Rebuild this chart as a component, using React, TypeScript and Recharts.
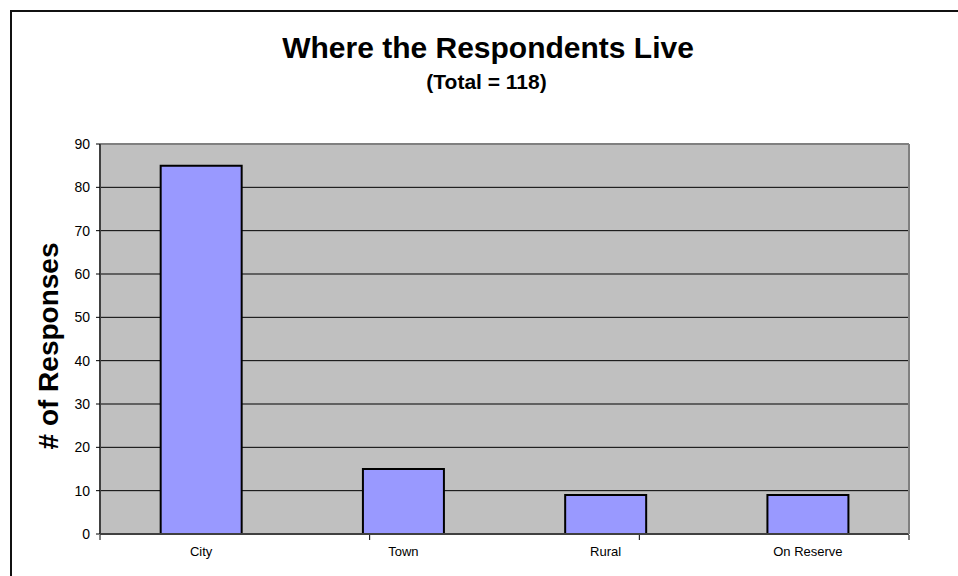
import React from 'react';
import { BarChart, Bar, XAxis, YAxis, CartesianGrid } from 'recharts';

const categories = ['City', 'Town', 'Rural', 'On Reserve'];
const responses = [85, 15, 9, 9];
const yTicks = [0, 10, 20, 30, 40, 50, 60, 70, 80, 90];
const edgeTicks = [0, 1, 2, 3, 4];
const titleText = 'Where the Respondents Live';
const subtitleText = '(Total = 118)';
const yLabelText = '# of Responses';

const data = categories.map((c, i) => ({ name: c, value: responses[i] }));

const FONT = '"Liberation Sans", Arial, sans-serif';

export default function App() {
  return (
    <div style={{ position: 'absolute', left: 0, top: 0, width: 958, height: 576, background: '#fff', overflow: 'hidden', fontFamily: FONT }}>
      <div style={{ position: 'absolute', left: 10, top: 10, width: 1000, height: 1000, borderLeft: '2px solid #111', borderTop: '2px solid #111' }} />
      <div style={{ position: 'absolute', left: 0, top: 0 }}>
        <BarChart
          width={958}
          height={576}
          data={data}
          margin={{ top: 143, right: 48, left: 99, bottom: 40 }}
          barCategoryGap="30%"
        >
          <CartesianGrid vertical={false} fill="#C0C0C0" stroke="#000" strokeWidth={1} />
          <XAxis
            dataKey="name"
            height={1}
            tickLine={false}
            tickSize={0}
            tickMargin={13}
            axisLine={{ stroke: '#404040', strokeWidth: 2 }}
            tick={{ fontSize: 13, fill: '#000', fontFamily: FONT }}
            interval={0}
          />
          <XAxis
            xAxisId="edges"
            type="number"
            domain={[0, 4]}
            ticks={edgeTicks}
            allowDataOverflow
            height={1}
            axisLine={false}
            tickLine={{ stroke: '#000', strokeWidth: 1 }}
            tickSize={5}
            tickFormatter={() => ''}
          />
          <XAxis
            xAxisId="top"
            dataKey="name"
            orientation="top"
            height={1}
            tick={false}
            tickLine={false}
            axisLine={{ stroke: '#808080', strokeWidth: 2 }}
          />
          <YAxis
            width={1}
            domain={[0, 90]}
            ticks={yTicks}
            interval={0}
            tickSize={4}
            tickMargin={6}
            tickLine={{ stroke: '#000', strokeWidth: 1 }}
            axisLine={{ stroke: '#404040', strokeWidth: 2 }}
            tick={{ fontSize: 14, fill: '#000', fontFamily: FONT }}
          />
          <YAxis
            yAxisId="right"
            orientation="right"
            width={1}
            domain={[0, 90]}
            tick={false}
            tickLine={false}
            axisLine={{ stroke: '#808080', strokeWidth: 2 }}
          />
          <Bar dataKey="value" fill="#9999FF" stroke="#000" strokeWidth={2} isAnimationActive={false} />
        </BarChart>
      </div>
      <svg width={958} height={576} style={{ position: 'absolute', left: 0, top: 0, pointerEvents: 'none' }}>
        <text x={488} y={58} textAnchor="middle" fontFamily={FONT} fontWeight="bold" fontSize={30} fill="#000">{titleText}</text>
        <text x={486.5} y={89} textAnchor="middle" fontFamily={FONT} fontWeight="bold" fontSize={21} fill="#000">{subtitleText}</text>
        <text x={48} y={346} textAnchor="middle" dominantBaseline="central" transform="rotate(-90 48 346)" fontFamily={FONT} fontWeight="bold" fontSize={28} fill="#000">{yLabelText}</text>
      </svg>
    </div>
  );
}
